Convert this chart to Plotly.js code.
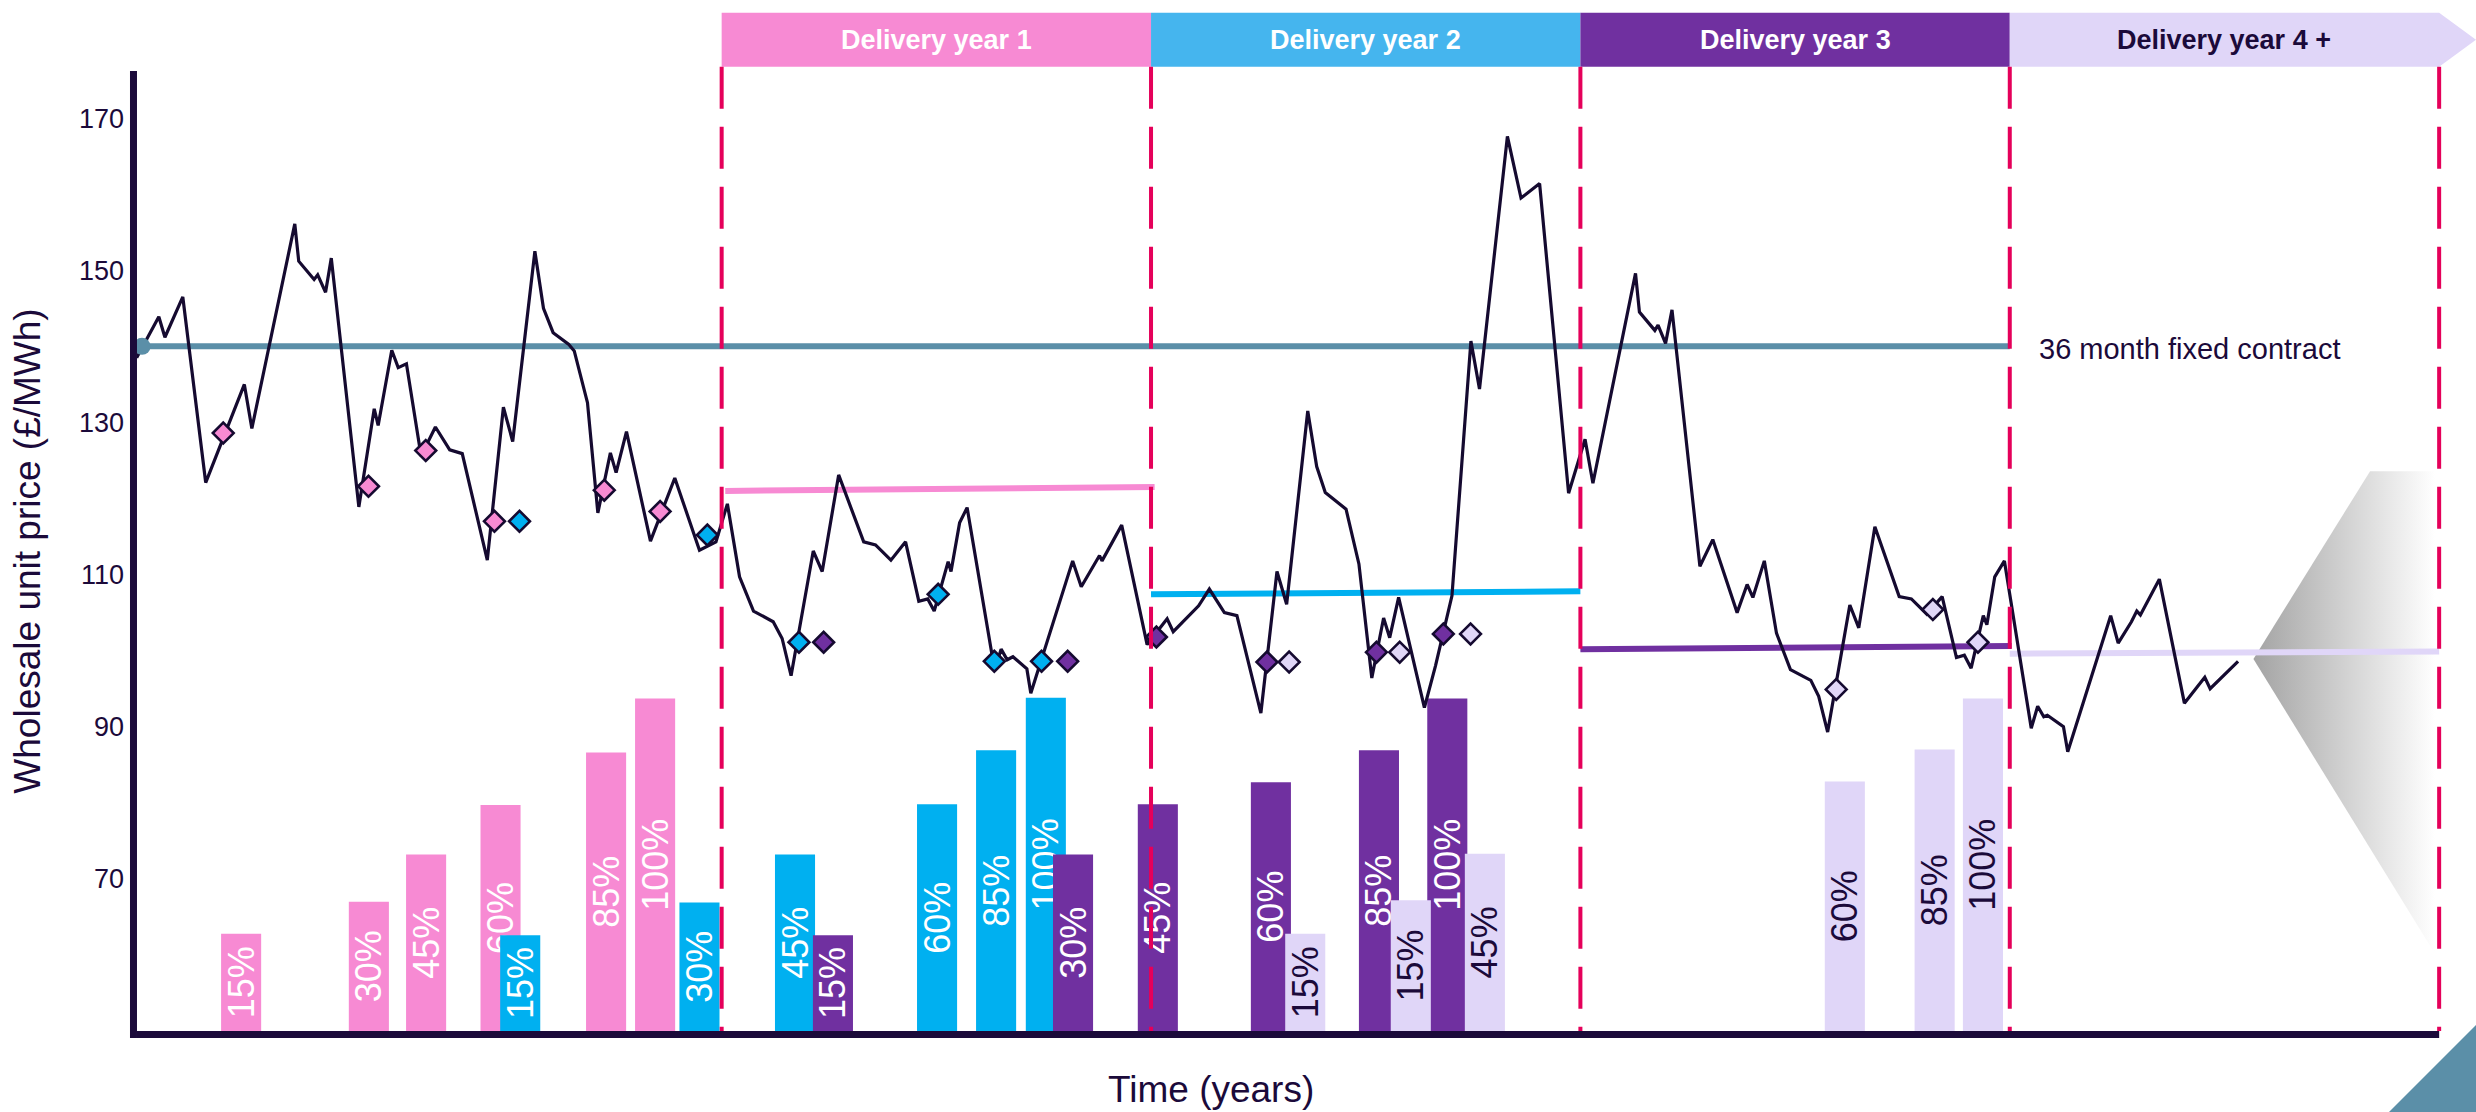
<!DOCTYPE html>
<html>
<head>
<meta charset="utf-8">
<script src="https://cdn.plot.ly/plotly-3.0.1.min.js"></script>
<style>
  html, body { margin: 0; padding: 0; background: #ffffff; }
  #chart { width: 2476px; height: 1112px; }
</style>
</head>
<body>
<div id="chart"></div>
<script>
// Time axis: months, measured from the start of delivery year 1.

// Wholesale price path (£/MWh)
const priceMonth = [
  -16.35, -15.73, -15.56, -15.06, -14.42, -13.34, -13.13, -11.93, -11.82, -11.39,
  -11.29, -11.07, -10.91, -10.14, -9.71, -9.60, -9.22, -9.04, -8.81, -8.40,
  -8.00, -7.60, -7.25, -6.55, -6.10, -5.84, -5.22, -4.98, -4.71, -4.28,
  -4.12, -3.75, -3.46, -3.11, -2.95, -2.66, -1.99, -1.31, -0.62, -0.16,
  0.16, 0.50, 0.89, 1.44, 1.69, 1.94, 2.56, 2.81, 3.27, 3.97,
  4.30, 4.73, 5.14, 5.51, 5.76, 5.94, 6.33, 6.41, 6.65, 6.86,
  7.63, 7.81, 7.98, 8.14, 8.53, 8.64, 9.81, 10.05, 10.56, 10.63,
  11.18, 11.89, 12.45, 12.62, 13.33, 13.63, 14.05, 14.40, 15.07, 15.52,
  15.79, 16.38, 16.63, 16.87, 17.45, 17.81, 18.17, 18.50, 18.67, 18.92,
  19.64, 19.95, 20.41, 20.94, 21.18, 21.96, 22.34, 22.86, 23.67, 24.13,
  24.35, 25.54, 25.65, 26.08, 26.17, 26.38, 26.56, 27.34, 27.70, 28.38,
  28.66, 28.82, 29.14, 29.48, 29.87, 30.44, 30.66, 30.91, 31.53, 31.78,
  32.23, 32.91, 33.25, 33.68, 34.11, 34.51, 34.73, 34.92, 35.26, 35.36,
  35.58, 35.85, 36.60, 36.78, 36.95, 37.05, 37.50, 37.62, 38.82, 39.03,
  39.40, 39.55, 39.65, 40.18, 40.88, 41.45, 41.60, 42.38
];
const priceLevel = [
  138.5, 143.9, 141.2, 146.5, 122.1, 135.0, 129.2, 156.1, 151.2, 148.8,
  149.4, 147.1, 151.6, 118.9, 131.8, 129.6, 139.5, 137.2, 137.7, 125.6,
  129.4, 126.4, 125.9, 111.9, 132.0, 127.5, 152.5, 145.0, 141.8, 140.3,
  139.4, 132.6, 118.1, 126.0, 123.4, 128.8, 114.4, 122.7, 113.2, 114.3,
  119.3, 109.7, 105.2, 103.8, 101.6, 96.7, 113.1, 110.4, 123.1, 114.3,
  113.9, 111.9, 114.3, 106.5, 106.8, 105.2, 111.7, 110.4, 116.8, 118.8,
  97.4, 100.2, 98.8, 99.2, 97.6, 94.4, 111.8, 108.4, 112.5, 111.8,
  116.5, 100.8, 104.2, 102.5, 105.9, 108.1, 105.0, 104.6, 91.8, 110.4,
  106.1, 131.5, 124.2, 120.8, 118.6, 111.4, 96.4, 104.3, 101.7, 107.0,
  92.5, 98.0, 107.2, 140.7, 134.4, 167.6, 159.5, 161.4, 120.7, 127.8,
  122.0, 149.6, 144.5, 142.1, 142.8, 140.4, 144.8, 111.1, 114.6, 105.0,
  108.7, 107.0, 111.8, 102.3, 97.5, 96.1, 94.0, 89.3, 106.0, 103.0,
  116.3, 107.1, 106.8, 104.8, 107.1, 99.1, 99.4, 97.7, 104.6, 103.4,
  109.7, 111.8, 89.8, 92.7, 91.3, 91.5, 90.0, 86.7, 104.6, 101.0,
  103.8, 105.2, 104.7, 109.4, 93.1, 96.5, 95.0, 98.6
];

// Delivery years
const deliveryYears = ['Delivery year 1', 'Delivery year 2', 'Delivery year 3', 'Delivery year 4 +'];
const yearStart = [0, 12, 24, 36];
const yearEnd = [12, 24, 36, 48];

// Fixed contract
const contractPrice = 140;
const contractStart = -16.2;
const contractEnd = 36;
const contractLabel = '36 month fixed contract';

// Average hedged price achieved for each delivery year (start / end of year)
const hedgeStartPrice = [121.0, 107.4, 100.2, 99.6];
const hedgeEndPrice = [121.5, 107.8, 100.6, 99.9];
const hedgeLineEnd = [12.1, 24.0, 36.05, 48.0];

// Forward purchases (diamonds) for each delivery year
const tradeMonthY1 = [-13.93, -9.87, -8.27, -6.35, -3.28, -1.72];
const tradePriceY1 = [128.6, 121.6, 126.3, 117.0, 121.1, 118.3];
const tradeMonthY2 = [-5.65, -0.40, 2.16, 6.05, 7.62, 8.94];
const tradePriceY2 = [117.0, 115.2, 101.1, 107.4, 98.6, 98.6];
const tradeMonthY3 = [2.85, 9.67, 12.15, 15.24, 18.30, 20.17];
const tradePriceY3 = [101.1, 98.6, 101.8, 98.5, 99.8, 102.2];
const tradeMonthY4 = [15.86, 18.95, 20.93, 31.15, 33.85, 35.11];
const tradePriceY4 = [98.5, 99.8, 102.2, 94.9, 105.4, 101.1];

// Cumulative hedge bars: position, bar top on the price scale, label
const barMonthY1 = [-13.43, -9.86, -8.26, -6.18, -3.23, -1.86];
const barTopY1 = [62.8, 67.0, 73.2, 79.7, 86.6, 93.7];
const barLabelY1 = ['15%', '30%', '45%', '60%', '85%', '100%'];
const barMonthY2 = [-5.63, -0.62, 2.05, 6.02, 7.67, 9.06];
const barTopY2 = [62.6, 66.9, 73.2, 79.8, 86.9, 93.8];
const barLabelY2 = ['15%', '30%', '45%', '60%', '85%', '100%'];
const barMonthY3 = [3.11, 9.82, 12.19, 15.35, 18.37, 20.28];
const barTopY3 = [62.6, 73.2, 79.8, 82.7, 86.9, 93.7];
const barLabelY3 = ['15%', '30%', '45%', '60%', '85%', '100%'];
const barMonthY4 = [16.31, 19.26, 21.33, 31.39, 33.90, 35.25];
const barTopY4 = [62.8, 67.2, 73.3, 82.8, 87.0, 93.7];
const barLabelY4 = ['15%', '15%', '45%', '60%', '85%', '100%'];

// Forecast uncertainty fan beyond the last price
const fanMonth = [42.81, 46.07, 47.88, 47.88, 42.81];
const fanLevel = [98.9, 123.6, 123.6, 60.2, 98.9];

// Y tick labels
const priceTicks = [70, 90, 110, 130, 150, 170];

// ---------- styling ----------
const NAVY = '#1B0A3A';
const LINE = '#150A30';
const FONT = '"Liberation Sans", Arial, Helvetica, sans-serif';
const yearColour = ['#F78AD3', '#00B0F0', '#7030A0', '#E0D6F8'];
const headerColour = ['#F78AD3', '#45B5EE', '#7030A0', '#E0D6F8'];
const headerText = ['#FFFFFF', '#FFFFFF', '#FFFFFF', NAVY];
const barText = ['#FFFFFF', '#FFFFFF', '#FFFFFF', NAVY];
const DASH_RED = '#E5005A';
const TEAL = '#5B8FA8';

const barFloor = 50;
const yRange = [barFloor, 176.2];
const xRange = [-16.34, 49.03];

const traces = [];

// fan
traces.push({
  type: 'scatter', mode: 'lines', x: fanMonth, y: fanLevel,
  fill: 'toself',
  fillgradient: { type: 'horizontal', colorscale: [[0, '#a3a3a3'], [1, '#ffffff']] },
  line: { width: 0, color: 'rgba(0,0,0,0)' },
  hoverinfo: 'skip', showlegend: false
});

// hedge bars
const barSets = [
  [barMonthY1, barTopY1, barLabelY1],
  [barMonthY2, barTopY2, barLabelY2],
  [barMonthY3, barTopY3, barLabelY3],
  [barMonthY4, barTopY4, barLabelY4]
];
barSets.forEach(([mx, top, lab], i) => {
  traces.push({
    type: 'bar', x: mx,
    y: top.map(t => t - barFloor), base: barFloor,
    width: 1.12,
    marker: { color: yearColour[i], line: { width: 0 } },
    text: lab, textposition: 'inside', insidetextanchor: 'middle',
    textangle: -90, constraintext: 'none',
    textfont: { family: FONT, size: 36, color: barText[i] },
    hoverinfo: 'skip', showlegend: false
  });
});

// fixed contract
traces.push({
  type: 'scatter', mode: 'lines',
  x: [contractStart, contractEnd], y: [contractPrice, contractPrice],
  line: { color: TEAL, width: 6 },
  hoverinfo: 'skip', showlegend: false
});

// hedged price per delivery year
for (let i = 0; i < 4; i++) {
  traces.push({
    type: 'scatter', mode: 'lines',
    x: [yearStart[i] + (i === 0 ? 0.1 : 0), hedgeLineEnd[i]],
    y: [hedgeStartPrice[i], hedgeEndPrice[i]],
    line: { color: yearColour[i], width: 6 },
    hoverinfo: 'skip', showlegend: false
  });
}

// wholesale price
traces.push({
  type: 'scatter', mode: 'lines', x: priceMonth, y: priceLevel,
  line: { color: LINE, width: 3.2 },
  hoverinfo: 'skip', showlegend: false
});

// contract start point, drawn over the price line
traces.push({
  type: 'scatter', mode: 'markers', x: [contractStart], y: [contractPrice],
  marker: { color: TEAL, size: 17, line: { width: 0 } },
  cliponaxis: false, hoverinfo: 'skip', showlegend: false
});

// purchases
const tradeSets = [
  [tradeMonthY1, tradePriceY1], [tradeMonthY2, tradePriceY2],
  [tradeMonthY3, tradePriceY3], [tradeMonthY4, tradePriceY4]
];
tradeSets.forEach(([mx, p], i) => {
  traces.push({
    type: 'scatter', mode: 'markers', x: mx, y: p,
    marker: { symbol: 'diamond', size: 16, color: yearColour[i], line: { color: LINE, width: 2.6 } },
    hoverinfo: 'skip', showlegend: false
  });
});

// ---------- shapes ----------
const shapes = [];
const bandBottom = 1.0045, bandTop = 1.0607, bandMid = (bandBottom + bandTop) / 2;
for (let i = 0; i < 3; i++) {
  shapes.push({
    type: 'rect', xref: 'x', yref: 'paper',
    x0: yearStart[i], x1: yearEnd[i], y0: bandBottom, y1: bandTop,
    fillcolor: headerColour[i], line: { width: 0 }, layer: 'above'
  });
}
// last band ends in an arrow point
shapes.push({
  type: 'path', xref: 'x', yref: 'paper',
  path: `M ${yearStart[3]},${bandBottom} L ${yearEnd[3]},${bandBottom} L ${xRange[1]},${bandMid} L ${yearEnd[3]},${bandTop} L ${yearStart[3]},${bandTop} Z`,
  fillcolor: headerColour[3], line: { width: 0 }, layer: 'above'
});
// delivery-year boundaries
[0, 12, 24, 36, 48].forEach(m => {
  shapes.push({
    type: 'line', xref: 'x', yref: 'paper', x0: m, x1: m, y0: bandBottom, y1: 0,
    line: { color: DASH_RED, width: 4, dash: '42px,18px' }, layer: 'above'
  });
});
// axis lines
shapes.push({
  type: 'line', xref: 'x', yref: 'paper', x0: xRange[0] - 1, x1: 48, y0: -0.0036, y1: -0.0036,
  line: { color: NAVY, width: 7 }, layer: 'above'
});
shapes.push({
  type: 'line', xref: 'paper', yref: 'paper', x0: -0.0015, x1: -0.0015, y0: -0.0073, y1: 1,
  line: { color: NAVY, width: 7 }, layer: 'above'
});
// corner accent
shapes.push({
  type: 'path', xref: 'paper', yref: 'paper',
  path: 'M 0.9628,-0.0844 L 1,0.0063 L 1,-0.0844 Z',
  fillcolor: TEAL, line: { width: 0 }, layer: 'above'
});

// ---------- annotations ----------
const annotations = [];
deliveryYears.forEach((t, i) => {
  annotations.push({
    text: t, xref: 'x', yref: 'paper',
    x: (yearStart[i] + yearEnd[i]) / 2, y: bandMid,
    xanchor: 'center', yanchor: 'middle', showarrow: false,
    font: { family: FONT, size: 27, weight: 700, color: headerText[i] }
  });
});
annotations.push({
  text: contractLabel, xref: 'x', yref: 'y', x: 36.77, y: contractPrice,
  xanchor: 'left', yanchor: 'middle', showarrow: false, yshift: -3,
  font: { family: FONT, size: 29, color: NAVY }
});
annotations.push({
  text: 'Time (years)', xref: 'x', yref: 'paper', x: 13.68, y: -0.061,
  xanchor: 'center', yanchor: 'middle', showarrow: false,
  font: { family: FONT, size: 37, color: NAVY }
});

const layout = {
  width: 2476, height: 1112,
  margin: { l: 137, r: 0, t: 71, b: 81, pad: 0 },
  paper_bgcolor: '#ffffff', plot_bgcolor: '#ffffff',
  showlegend: false,
  barmode: 'overlay',
  font: { family: FONT, color: NAVY },
  xaxis: {
    range: xRange, showgrid: false, zeroline: false, showline: false,
    showticklabels: false, ticks: '', fixedrange: true
  },
  yaxis: {
    range: yRange, showgrid: false, zeroline: false, showline: false,
    ticks: '', tickvals: priceTicks, ticktext: priceTicks.map(String),
    tickfont: { family: FONT, size: 27, color: NAVY },
    ticklabelstandoff: 12,
    title: { text: 'Wholesale unit price (£/MWh)', font: { family: FONT, size: 37, color: NAVY }, standoff: 26 },
    fixedrange: true
  },
  shapes: shapes,
  annotations: annotations
};

Plotly.newPlot('chart', traces, layout, { staticPlot: true, displayModeBar: false });
</script>
</body>
</html>
